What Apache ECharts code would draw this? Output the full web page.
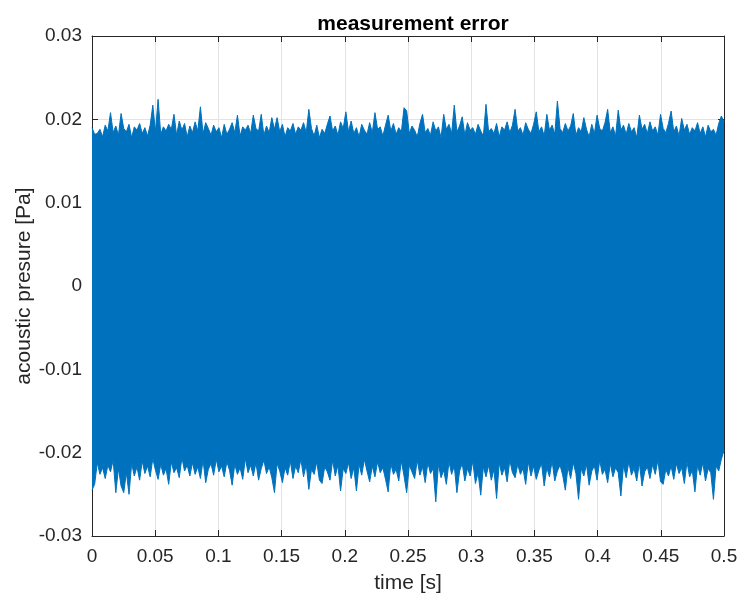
<!DOCTYPE html>
<html>
<head>
<meta charset="utf-8">
<title>measurement error</title>
<script src="https://cdn.jsdelivr.net/npm/echarts@6/dist/echarts.min.js"></script>
<style>
  html, body { margin: 0; padding: 0; background: #fff; }
  #chart { width: 739px; height: 594px; }
</style>
</head>
<body>
<div id="chart"></div>
<script>
const upperPeaks = [
  0.0190, 0.0182, 0.0183, 0.0188, 0.0179, 0.0193, 0.0186, 0.0208, 0.0184, 0.0192,
  0.0181, 0.0207, 0.0189, 0.0185, 0.0194, 0.0178, 0.0191, 0.0187, 0.0195, 0.0183,
  0.0190, 0.0180, 0.0193, 0.0217, 0.0185, 0.0224, 0.0182, 0.0191, 0.0186, 0.0194,
  0.0188, 0.0206, 0.0181, 0.0198, 0.0187, 0.0195, 0.0179, 0.0192, 0.0184, 0.0197,
  0.0186, 0.0215, 0.0183, 0.0196, 0.0189, 0.0181, 0.0193, 0.0185, 0.0190, 0.0178,
  0.0194, 0.0182, 0.0188, 0.0196, 0.0184, 0.0205, 0.0180, 0.0191, 0.0187, 0.0193,
  0.0183, 0.0205, 0.0189, 0.0186, 0.0206, 0.0181, 0.0192, 0.0184, 0.0202, 0.0188,
  0.0202, 0.0185, 0.0194, 0.0179, 0.0190, 0.0186, 0.0195, 0.0182, 0.0191, 0.0187,
  0.0196, 0.0184, 0.0212, 0.0189, 0.0180, 0.0193, 0.0178, 0.0188, 0.0183, 0.0194,
  0.0204, 0.0186, 0.0192, 0.0181, 0.0197, 0.0189, 0.0209, 0.0185, 0.0198, 0.0183,
  0.0190, 0.0179, 0.0194, 0.0187, 0.0182, 0.0196, 0.0184, 0.0208, 0.0188, 0.0191,
  0.0180, 0.0193, 0.0205, 0.0186, 0.0195, 0.0182, 0.0190, 0.0185, 0.0214, 0.0210,
  0.0183, 0.0192, 0.0187, 0.0179, 0.0195, 0.0206, 0.0184, 0.0189, 0.0181, 0.0197,
  0.0186, 0.0191, 0.0178, 0.0206, 0.0188, 0.0194, 0.0183, 0.0217, 0.0185, 0.0192,
  0.0203, 0.0181, 0.0196, 0.0187, 0.0190, 0.0182, 0.0194, 0.0186, 0.0180, 0.0218,
  0.0185, 0.0189, 0.0183, 0.0195, 0.0179, 0.0191, 0.0187, 0.0197, 0.0184, 0.0193,
  0.0212, 0.0186, 0.0190, 0.0181, 0.0196, 0.0188, 0.0183, 0.0194, 0.0209, 0.0185,
  0.0191, 0.0180, 0.0206, 0.0187, 0.0193, 0.0182, 0.0222, 0.0189, 0.0184, 0.0195,
  0.0186, 0.0192, 0.0207, 0.0181, 0.0190, 0.0185, 0.0202, 0.0188, 0.0179, 0.0194,
  0.0183, 0.0205, 0.0189, 0.0186, 0.0196, 0.0212, 0.0184, 0.0191, 0.0180, 0.0211,
  0.0187, 0.0193, 0.0182, 0.0195, 0.0185, 0.0190, 0.0178, 0.0205, 0.0188, 0.0194,
  0.0183, 0.0197, 0.0186, 0.0191, 0.0181, 0.0206, 0.0189, 0.0184, 0.0195, 0.0210,
  0.0185, 0.0192, 0.0180, 0.0201, 0.0187, 0.0194, 0.0182, 0.0190, 0.0186, 0.0196,
  0.0183, 0.0191, 0.0179, 0.0193, 0.0185, 0.0188, 0.0181, 0.0195, 0.0204, 0.0197
];
const lowerPeaks = [
  -0.0245, -0.0238, -0.0212, -0.0226, -0.0218, -0.0231, -0.0215, -0.0223, -0.0209, -0.0248,
  -0.0219, -0.0240, -0.0248, -0.0224, -0.0250, -0.0213, -0.0228, -0.0217, -0.0233, -0.0210,
  -0.0225, -0.0216, -0.0229, -0.0207, -0.0221, -0.0232, -0.0214, -0.0227, -0.0219, -0.0238,
  -0.0211, -0.0224, -0.0218, -0.0230, -0.0206, -0.0222, -0.0215, -0.0228, -0.0212, -0.0226,
  -0.0217, -0.0231, -0.0209, -0.0236, -0.0220, -0.0213, -0.0227, -0.0208, -0.0223, -0.0216,
  -0.0229, -0.0211, -0.0221, -0.0239, -0.0214, -0.0226, -0.0218, -0.0232, -0.0207, -0.0224,
  -0.0215, -0.0228, -0.0212, -0.0233, -0.0219, -0.0209, -0.0225, -0.0217, -0.0230, -0.0248,
  -0.0213, -0.0222, -0.0236, -0.0218, -0.0227, -0.0210, -0.0231, -0.0216, -0.0224, -0.0208,
  -0.0229, -0.0214, -0.0244, -0.0220, -0.0226, -0.0211, -0.0233, -0.0237, -0.0217, -0.0223,
  -0.0233, -0.0209, -0.0228, -0.0215, -0.0246, -0.0219, -0.0225, -0.0212, -0.0231, -0.0218,
  -0.0246, -0.0214, -0.0227, -0.0208, -0.0222, -0.0235, -0.0216, -0.0229, -0.0211, -0.0224,
  -0.0218, -0.0232, -0.0247, -0.0213, -0.0226, -0.0220, -0.0234, -0.0210, -0.0228, -0.0248,
  -0.0215, -0.0223, -0.0231, -0.0209, -0.0227, -0.0217, -0.0236, -0.0212, -0.0225, -0.0219,
  -0.0259, -0.0214, -0.0230, -0.0221, -0.0238, -0.0211, -0.0226, -0.0216, -0.0248, -0.0222,
  -0.0213, -0.0234, -0.0219, -0.0228, -0.0210, -0.0237, -0.0224, -0.0251, -0.0217, -0.0229,
  -0.0215, -0.0233, -0.0220, -0.0255, -0.0212, -0.0227, -0.0218, -0.0235, -0.0209, -0.0224,
  -0.0230, -0.0214, -0.0226, -0.0219, -0.0238, -0.0211, -0.0228, -0.0216, -0.0232, -0.0221,
  -0.0213, -0.0240, -0.0218, -0.0229, -0.0210, -0.0234, -0.0222, -0.0215, -0.0227, -0.0245,
  -0.0217, -0.0231, -0.0212, -0.0225, -0.0256, -0.0219, -0.0228, -0.0214, -0.0239, -0.0222,
  -0.0216, -0.0233, -0.0209, -0.0226, -0.0220, -0.0236, -0.0213, -0.0229, -0.0218, -0.0224,
  -0.0252, -0.0215, -0.0230, -0.0211, -0.0227, -0.0219, -0.0234, -0.0212, -0.0240, -0.0223,
  -0.0217, -0.0231, -0.0214, -0.0226, -0.0209, -0.0235, -0.0238, -0.0220, -0.0228, -0.0216,
  -0.0232, -0.0213, -0.0225, -0.0218, -0.0237, -0.0211, -0.0229, -0.0221, -0.0247, -0.0215,
  -0.0227, -0.0212, -0.0234, -0.0219, -0.0224, -0.0256, -0.0216, -0.0222, -0.0208, -0.0197
];
const xTicks = [0, 0.05, 0.1, 0.15, 0.2, 0.25, 0.3, 0.35, 0.4, 0.45, 0.5];
const yTicks = [-0.03, -0.02, -0.01, 0, 0.01, 0.02, 0.03];

const duration = 0.5; // s
const dt = duration / (upperPeaks.length - 1);

const blue = '#0072BD';
const ink = '#262626';
const font = 'Liberation Sans, Arial, Helvetica, sans-serif';

const upperData = upperPeaks.map((v, i) => [i * dt, v]);
const lowerData = lowerPeaks.map((v, i) => [i * dt, v]);

function axisBase(extra) {
  return Object.assign({
    axisLine: { show: true, onZero: false, lineStyle: { color: ink, width: 1 } },
    axisTick: { show: true, inside: true, length: 6, lineStyle: { color: ink } },
    splitLine: { show: false },
    axisLabel: { show: false }
  }, extra);
}

const chart = echarts.init(document.getElementById('chart'));
chart.setOption({
  animation: false,
  backgroundColor: '#fff',
  title: {
    text: 'measurement error',
    left: 408,
    textAlign: 'center',
    top: 9,
    textStyle: { fontFamily: font, fontSize: 21, fontWeight: 'bold', color: '#000' }
  },
  grid: { left: 92, right: 15, top: 36, bottom: 58, containLabel: false, outerBoundsMode: 'none' },
  xAxis: [
    axisBase({
      type: 'value',
      min: xTicks[0],
      max: xTicks[xTicks.length - 1],
      interval: 0.05,
      position: 'bottom',
      name: 'time [s]',
      nameLocation: 'middle',
      nameGap: 37,
      nameMoveOverlap: false,
      nameTextStyle: { fontFamily: font, fontSize: 21, color: ink },
      splitLine: { show: true, lineStyle: { color: '#e3e3e3', width: 1 } },
      axisLabel: { show: true, margin: 11, fontFamily: font, fontSize: 19, color: ink,
        formatter: v => String(+v.toFixed(2)) }
    }),
    axisBase({
      type: 'value',
      min: xTicks[0],
      max: xTicks[xTicks.length - 1],
      interval: 0.05,
      position: 'top'
    })
  ],
  yAxis: [
    axisBase({
      type: 'value',
      min: yTicks[0],
      max: yTicks[yTicks.length - 1],
      interval: 0.01,
      position: 'left',
      name: 'acoustic presure [Pa]',
      nameLocation: 'middle',
      nameGap: 57,
      nameMoveOverlap: false,
      nameTextStyle: { fontFamily: font, fontSize: 21, color: ink },
      splitLine: { show: true, lineStyle: { color: '#e3e3e3', width: 1 } },
      axisLabel: { show: true, margin: 10, fontFamily: font, fontSize: 19, color: ink,
        formatter: v => String(+v.toFixed(2)) }
    }),
    axisBase({
      type: 'value',
      min: yTicks[0],
      max: yTicks[yTicks.length - 1],
      interval: 0.01,
      position: 'right'
    })
  ],
  series: [
    {
      // upper half, filled down past zero so both halves overlap
      type: 'line',
      data: upperData,
      symbol: 'none',
      lineStyle: { color: blue, width: 1 },
      areaStyle: { color: blue, opacity: 1, origin: -0.01 }
    },
    {
      type: 'line',
      data: lowerData,
      symbol: 'none',
      lineStyle: { color: blue, width: 1 },
      areaStyle: { color: blue, opacity: 1, origin: 0.01 }
    }
  ]
});
</script>
</body>
</html>
